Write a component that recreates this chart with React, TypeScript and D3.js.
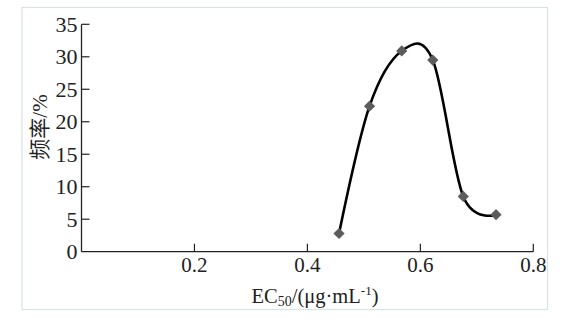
import React from "react";
import * as d3 from "d3";

const ec50 = [0.456, 0.51, 0.567, 0.622, 0.676, 0.734];
const freq = [2.8, 22.4, 30.9, 29.5, 8.5, 5.7];
const xTicks = [0.2, 0.4, 0.6, 0.8];
const yTicks = [0, 5, 10, 15, 20, 25, 30, 35];

export default function App() {
  const W = 583, H = 324;
  const x0 = 81.5, x1 = 533.3, y0 = 251.7, y1 = 24.3;
  const x = d3.scaleLinear().domain([0, 0.8]).range([x0, x1]);
  const y = d3.scaleLinear().domain([0, 35]).range([y0, y1]);
  const pts: [number, number][] = ec50.map((v, i) => [x(v), y(freq[i])]);
  const line = d3.line().curve(d3.curveCardinal.tension(0))(pts) || "";
  const serif = "'Liberation Serif', 'Times New Roman', serif";
  const diamond = d3.symbol().type(d3.symbolDiamond2).size(80)() || "";
  return (
    <svg width={W} height={H} style={{ position: "absolute", left: 0, top: 0, background: "#fff" }}>
      <rect x={22} y={7.5} width={525.5} height={302} fill="#fff" stroke="#d9e3e3" strokeWidth={1.2} />
      {/* axes */}
      <line x1={x0} y1={y0} x2={x1} y2={y0} stroke="#222" strokeWidth={1.3} />
      <line x1={x0} y1={y0} x2={x0} y2={y1} stroke="#222" strokeWidth={1.3} />
      {xTicks.map((t) => (
        <g key={"x" + t}>
          <line x1={x(t)} x2={x(t)} y1={y0} y2={y0 - 8} stroke="#222" strokeWidth={1.2} />
          <text x={x(t)} y={271.5} textAnchor="middle" fontFamily={serif} fontSize={21} fill="#222">
            {d3.format(".1f")(t)}
          </text>
        </g>
      ))}
      {yTicks.map((t) => (
        <g key={"y" + t}>
          {t > 0 && <line x1={x0} x2={x0 + 8} y1={y(t)} y2={y(t)} stroke="#222" strokeWidth={1.2} />}
          <text x={77.5} y={y(t)} dy="0.35em" textAnchor="end" fontFamily={serif} fontSize={22} fill="#222">
            {t}
          </text>
        </g>
      ))}
      <path d={line} fill="none" stroke="#000" strokeWidth={2.6} />
      {pts.map((p, i) => (
        <path key={i} d={diamond} transform={`translate(${p[0]},${p[1]})`} fill="#5c5c5c" />
      ))}
      <text x={315} y={303} textAnchor="middle" fontFamily={serif} fontSize={20.5} fill="#222">
        EC<tspan fontSize={14} dy={3}>50</tspan>
        <tspan dy={-3}>/(μg·mL</tspan>
        <tspan fontSize={13} dy={-8}>-1</tspan>
        <tspan dy={8}>)</tspan>
      </text>
      <text transform={`translate(47,127) rotate(-90)`} textAnchor="middle" fontSize={21} fill="#222">
        <tspan fontFamily="'Noto Sans CJK SC', sans-serif">频率</tspan>
        <tspan fontFamily={serif}>/%</tspan>
      </text>
    </svg>
  );
}
